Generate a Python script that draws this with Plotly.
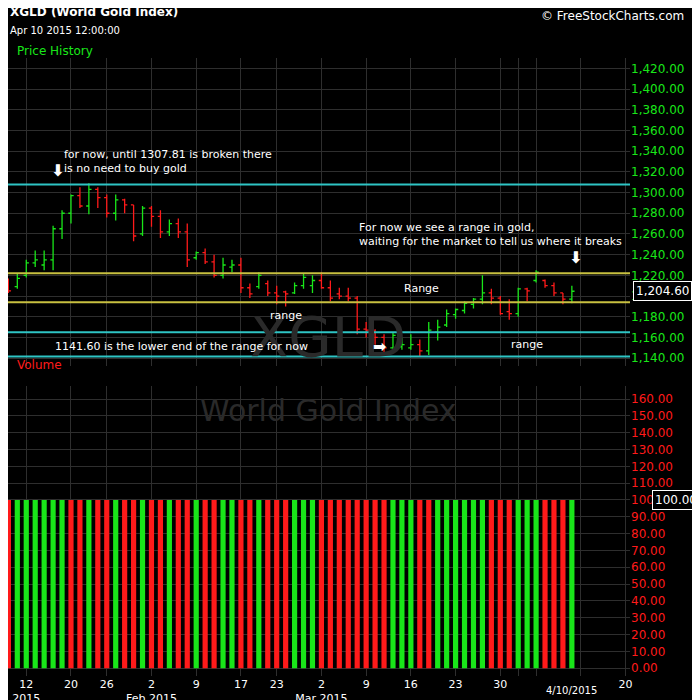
import plotly.graph_objects as go
from plotly.subplots import make_subplots

# trading days shown (holidays Jan 19, Feb 16, Apr 3 are skipped)
dates = ["2015-01-08", "2015-01-09", "2015-01-12", "2015-01-13", "2015-01-14", "2015-01-15", "2015-01-16",
         "2015-01-20", "2015-01-21", "2015-01-22", "2015-01-23", "2015-01-26", "2015-01-27", "2015-01-28",
         "2015-01-29", "2015-01-30", "2015-02-02", "2015-02-03", "2015-02-04", "2015-02-05", "2015-02-06",
         "2015-02-09", "2015-02-10", "2015-02-11", "2015-02-12", "2015-02-13", "2015-02-17", "2015-02-18",
         "2015-02-19", "2015-02-20", "2015-02-23", "2015-02-24", "2015-02-25", "2015-02-26", "2015-02-27",
         "2015-03-02", "2015-03-03", "2015-03-04", "2015-03-05", "2015-03-06", "2015-03-09", "2015-03-10",
         "2015-03-11", "2015-03-12", "2015-03-13", "2015-03-16", "2015-03-17", "2015-03-18", "2015-03-19",
         "2015-03-20", "2015-03-23", "2015-03-24", "2015-03-25", "2015-03-26", "2015-03-27", "2015-03-30",
         "2015-03-31", "2015-04-01", "2015-04-02", "2015-04-06", "2015-04-07", "2015-04-08", "2015-04-09",
         "2015-04-10"]
opens = [1214, 1209, 1220, 1232, 1230, 1235, 1265, 1280, 1297, 1287, 1303, 1295, 1280, 1293, 1288, 1260,
         1285, 1277, 1262, 1270, 1262, 1237, 1242, 1233, 1220, 1228, 1230, 1208, 1209, 1212, 1203, 1204,
         1203, 1210, 1210, 1215, 1208, 1202, 1200, 1198, 1168, 1166, 1160, 1150, 1151, 1150, 1153, 1147,
         1165, 1172, 1182, 1186, 1192, 1197, 1203, 1198, 1185, 1183, 1207, 1215, 1215, 1210, 1203, 1197]
highs = [1217, 1222, 1235, 1244, 1244, 1268, 1283, 1298, 1305, 1309, 1305, 1298, 1298, 1294, 1288, 1287,
         1287, 1283, 1274, 1275, 1270, 1243, 1246, 1240, 1237, 1235, 1237, 1212, 1223, 1215, 1210, 1205,
         1213, 1222, 1220, 1223, 1215, 1208, 1208, 1200, 1175, 1168, 1163, 1165, 1160, 1163, 1158, 1175,
         1177, 1187, 1188, 1195, 1198, 1220, 1207, 1200, 1197, 1208, 1208, 1225, 1216, 1213, 1203, 1210]
lows = [1203, 1207, 1218, 1228, 1225, 1225, 1255, 1270, 1285, 1279, 1285, 1276, 1273, 1280, 1253, 1258,
        1267, 1256, 1258, 1256, 1228, 1235, 1231, 1218, 1217, 1223, 1203, 1198, 1207, 1200, 1192, 1190,
        1202, 1207, 1203, 1207, 1195, 1197, 1195, 1163, 1160, 1153, 1145, 1147, 1148, 1148, 1142, 1143,
        1157, 1170, 1178, 1183, 1188, 1192, 1192, 1182, 1177, 1180, 1195, 1213, 1208, 1200, 1192, 1193]
closes = [1205, 1217, 1232, 1235, 1235, 1265, 1280, 1297, 1287, 1303, 1295, 1280, 1293, 1288, 1258, 1285,
          1277, 1262, 1270, 1262, 1235, 1242, 1233, 1220, 1230, 1230, 1208, 1202, 1220, 1203, 1200, 1202,
          1210, 1218, 1215, 1208, 1198, 1200, 1198, 1168, 1167, 1160, 1150, 1162, 1153, 1153, 1147, 1167,
          1170, 1183, 1187, 1193, 1197, 1203, 1198, 1183, 1183, 1207, 1205, 1223, 1210, 1203, 1197, 1204.6]
volumes = [100] * 64
vol_up = "RGGGGGGRRGRRGRRGRRGRRGRRGGRRGRRRGGGRRRRRRRRGGGRRGGGGGGRRRGGGRRRG"

cyan_levels = [1307.81, 1165, 1141.6]
yellow_levels = [1222, 1194]

tick_vals = ["2015-01-12", "2015-01-20", "2015-01-26", "2015-02-02", "2015-02-09", "2015-02-17",
             "2015-02-23", "2015-03-02", "2015-03-09", "2015-03-16", "2015-03-23", "2015-03-30",
             "2015-04-01", "2015-04-06", "2015-04-13", "2015-04-20"]
tick_text = ["12<br>2015", "20", "26", "2<br>Feb 2015", "9", "17", "23", "2<br>Mar 2015", "9", "16", "23",
             "30", "", "", "", "20"]

GREEN = "#19e619"
RED = "#ff1a1a"
FONT = "DejaVu Sans"

fig = make_subplots(rows=2, cols=1, shared_xaxes=True, vertical_spacing=0.031,
                    row_heights=[0.515, 0.485])

fig.add_trace(go.Ohlc(x=dates, open=opens, high=highs, low=lows, close=closes,
                      increasing=dict(line=dict(color=GREEN, width=1.3)),
                      decreasing=dict(line=dict(color=RED, width=1.3)),
                      tickwidth=0.3, showlegend=False), row=1, col=1)
fig.add_trace(go.Bar(x=dates, y=volumes,
                     marker=dict(color=[GREEN if c == "G" else RED for c in vol_up], line_width=0),
                     showlegend=False), row=2, col=1)

for lv in cyan_levels:
    fig.add_hline(y=lv, line=dict(color="#2ec4c4", width=2), row=1, col=1)
for lv in yellow_levels:
    fig.add_hline(y=lv, line=dict(color="#c8c040", width=2), row=1, col=1)

xr = ["2015-01-07 23:00", "2015-04-20 12:00"]
breaks = [dict(bounds=["sat", "mon"]), dict(values=["2015-01-19", "2015-02-16", "2015-04-03"])]
grid = "#2e2e2e"
fig.update_xaxes(range=xr, rangebreaks=breaks, tickvals=tick_vals, ticktext=tick_text,
                 showgrid=True, gridcolor=grid, zeroline=False, rangeslider_visible=False,
                 tickfont=dict(color="white", size=11, family=FONT), ticks="", showline=False)
fig.update_xaxes(showticklabels=False, row=1, col=1)
fig.update_yaxes(side="right", gridcolor=grid, zeroline=False, showline=False, ticks="")
fig.update_yaxes(range=[1132, 1430], dtick=20, tick0=1160, tickformat=",.2f",
                 tickfont=dict(color=GREEN, size=12, family=FONT), row=1, col=1)
fig.update_yaxes(range=[-4.6, 168], dtick=10, tickformat=".2f",
                 tickfont=dict(color=RED, size=12, family=FONT), row=2, col=1)

w = dict(color="white", size=11, family=FONT)
def note(text, x, y, font=w, **kw):
    fig.add_annotation(text=text, x=x, y=y, xref="paper", yref="paper", showarrow=False,
                       font=font, **kw)

note("<b>XGLD (World Gold Index)</b>", -0.0, 1.075, xanchor="left", yanchor="middle",
     font=dict(color="white", size=12, family=FONT))
note("Apr 10 2015 12:00:00", 0.0, 1.045, xanchor="left", yanchor="middle",
     font=dict(color="white", size=10, family=FONT))
note("Price History", 0.012, 1.012, xanchor="left", yanchor="middle",
     font=dict(color=GREEN, size=12, family=FONT))
note("© FreeStockCharts.com", 1.09, 1.068, xanchor="right", yanchor="middle",
     font=dict(color="white", size=12, family=FONT))
note("Volume", 0.012, 0.504, xanchor="left", yanchor="middle",
     font=dict(color=RED, size=12, family=FONT))
note("XGLD", 0.515, 0.55, font=dict(color="#2a2a2a", size=56, family=FONT), yanchor="middle")
note("World Gold Index", 0.515, 0.43, font=dict(color="#2a2a2a", size=30, family=FONT), yanchor="middle")

def price_note(text, x, y, font=w):
    fig.add_annotation(text=text, x=x, y=y, xref="x", yref="y", showarrow=False, font=font,
                       xanchor="left", align="left")

arrow_font = dict(color="white", size=16, family=FONT)
price_note("for now, until 1307.81 is broken there<br>is no need to buy gold", "2015-01-16", 1330)
price_note("<b>⬇</b>", "2015-01-14 12:00", 1321, arrow_font)
price_note("For now we see a range in gold,<br>waiting for the market to tell us where it breaks",
           "2015-03-06", 1259)
price_note("<b>⬇</b>", "2015-04-09 12:00", 1237, arrow_font)
price_note("Range", "2015-03-13", 1207)
price_note("range", "2015-02-20", 1181)
price_note("range", "2015-03-31", 1153)
price_note("1141.60 is the lower end of the range for now", "2015-01-15", 1151)
price_note("<b>➡</b>", "2015-03-09 12:00", 1151, arrow_font)

fig.add_annotation(text="1,204.60", x=1.005, y=closes[-1], xref="paper", yref="y", showarrow=False,
                   xanchor="left", font=dict(color="white", size=12, family=FONT),
                   bordercolor="white", borderwidth=1, borderpad=2, bgcolor="black")
fig.add_annotation(text="100.00", x=1.035, y=volumes[-1], xref="paper", yref="y2", showarrow=False,
                   xanchor="left", font=dict(color="white", size=12, family=FONT),
                   bordercolor="white", borderwidth=1, borderpad=2, bgcolor="black")
fig.add_annotation(text="4/10/2015", x=dates[-1], y=-0.012, xref="x2", yref="paper", showarrow=False,
                   yanchor="top", font=dict(color="white", size=10, family=FONT))

fig.update_layout(width=700, height=700, paper_bgcolor="black", plot_bgcolor="black",
                  margin=dict(l=0, r=78, t=50, b=32), bargap=0.42,
                  font=dict(family=FONT, color="white"))

fig.write_html("out.html")
